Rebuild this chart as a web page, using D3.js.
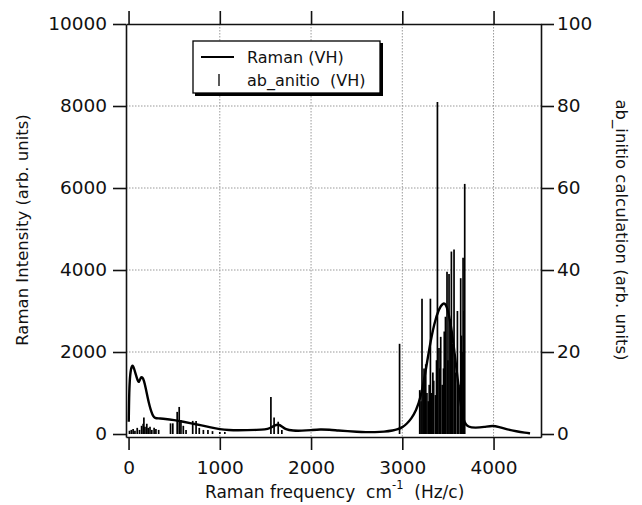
<!DOCTYPE html>
<html>
<head>
<meta charset="utf-8">
<script src="https://cdn.jsdelivr.net/npm/d3@7"></script>
<style>
  body { margin: 0; background: #fff; }
  text { font-family: "DejaVu Sans", sans-serif; fill: #111; }
  .grid line { stroke: #999; stroke-width: 1; stroke-dasharray: 1.5,1.5; }
  .axis path, .axis line { stroke: #111; stroke-width: 1.6; }
</style>
</head>
<body>
<svg width="642" height="505"></svg>
<script>
// Raman (VH) measured spectrum: [frequency cm-1, intensity]
var ramanSpectrum = [
  [2, 300], [6, 900], [12, 1300], [25, 1600], [45, 1700], [60, 1600], [80, 1450], [100, 1300],
  [115, 1250], [130, 1370], [150, 1400], [170, 1300], [190, 1100], [210, 880], [230, 690],
  [250, 540], [270, 430], [290, 390], [320, 380], [400, 370], [500, 340], [600, 300],
  [700, 255], [800, 210], [900, 160], [1000, 115], [1100, 95], [1200, 90], [1300, 95],
  [1400, 100], [1500, 110], [1550, 140], [1600, 210], [1640, 240], [1680, 190], [1720, 110],
  [1800, 80], [1900, 80], [2000, 95], [2100, 115], [2200, 105], [2300, 85], [2400, 70],
  [2500, 55], [2600, 45], [2700, 45], [2800, 55], [2900, 85], [2950, 115], [3000, 160],
  [3050, 250], [3100, 380], [3150, 560], [3200, 880], [3250, 1450], [3300, 2150],
  [3350, 2700], [3400, 3050], [3445, 3200], [3485, 3180], [3540, 2600], [3595, 1560],
  [3630, 900], [3655, 500], [3680, 270], [3720, 170], [3800, 150], [3900, 170],
  [3990, 210], [4060, 170], [4150, 110], [4250, 65], [4350, 30], [4400, 15]
];

// ab_initio (VH) calculated lines: [frequency cm-1, intensity]
var abInitio = [
  [10, 0.8], [30, 1], [50, 1.2], [70, 0.8], [95, 1.5], [120, 1], [143, 2], [160, 2.5],
  [168, 4], [180, 1.8], [200, 2.5], [215, 1.5], [235, 1.8], [255, 1], [280, 1.5], [300, 1.2],
  [330, 1], [460, 2.6], [485, 2.6], [533, 5.4], [555, 6.6], [574, 3.4], [600, 2], [630, 1],
  [703, 3.2], [740, 3.2], [775, 1.5], [820, 1], [870, 1], [920, 0.7], [1000, 0.5], [1055, 0.5],
  [1560, 9], [1595, 4], [1640, 3], [1680, 1],
  [2970, 22], [3191, 10.7], [3205, 8], [3216, 33], [3228, 12], [3238, 16], [3248, 14],
  [3257, 17], [3270, 10], [3285, 8], [3295, 12], [3308, 33], [3320, 10], [3335, 15],
  [3344, 13], [3363, 9.5], [3375, 18], [3385, 81], [3402, 21], [3410, 16], [3421, 23.7],
  [3438, 12], [3452, 16], [3460, 25], [3473, 28.6], [3490, 39.6], [3500, 18], [3512, 39],
  [3525, 28], [3538, 44.5], [3550, 22], [3567, 45], [3575, 18], [3585, 15], [3604, 30],
  [3620, 12], [3640, 38], [3648, 24], [3655, 20], [3666, 43], [3675, 30], [3684, 61]
];

var xTicks = [0, 1000, 2000, 3000, 4000];
var yLeftTicks = [0, 2000, 4000, 6000, 8000, 10000];
var yRightTicks = [0, 20, 40, 60, 80, 100];

var svg = d3.select("svg"),
    pLeft = 126, pRight = 541, pTop = 24, pBottom = 437;

var x = d3.scaleLinear().domain([-28, 4520]).range([pLeft, pRight]),
    y = d3.scaleLinear().domain([-73, 10000]).range([pBottom, pTop]),
    y2 = d3.scaleLinear().domain([-0.73, 100]).range([pBottom, pTop]);

// dotted grid
var grid = svg.append("g").attr("class", "grid");
grid.selectAll(".gx").data(xTicks.filter(function(d) { return d > 0; }))
  .enter().append("line")
    .attr("x1", function(d) { return x(d); }).attr("x2", function(d) { return x(d); })
    .attr("y1", pTop).attr("y2", pBottom);
grid.selectAll(".gy").data(yLeftTicks.filter(function(d) { return d > 0 && d < 10000; }))
  .enter().append("line")
    .attr("x1", pLeft).attr("x2", pRight)
    .attr("y1", function(d) { return y(d); }).attr("y2", function(d) { return y(d); });

// ab_initio sticks
svg.append("g").selectAll("line").data(abInitio)
  .enter().append("line")
    .attr("x1", function(d) { return x(d[0]); }).attr("x2", function(d) { return x(d[0]); })
    .attr("y1", y2(0)).attr("y2", function(d) { return y2(d[1]); })
    .attr("stroke", "#000").attr("stroke-width", 1.7);

// Raman curve
var line = d3.line()
    .x(function(d) { return x(d[0]); })
    .y(function(d) { return y(d[1]); })
    .curve(d3.curveBasis);
svg.append("path").datum(ramanSpectrum)
    .attr("d", line)
    .attr("fill", "none").attr("stroke", "#000").attr("stroke-width", 2.4);

// axes
var fmt = d3.format("d");
svg.append("g").attr("class", "axis")
    .attr("transform", "translate(0," + pBottom + ")")
    .call(d3.axisBottom(x).tickValues(xTicks).tickFormat(fmt).tickSizeInner(13).tickSizeOuter(0).tickPadding(11))
    .selectAll("text").style("font-size", "18.5px");
svg.append("g").attr("class", "axis")
    .attr("transform", "translate(0," + pTop + ")")
    .call(d3.axisTop(x).tickValues(xTicks).tickSizeInner(13).tickSizeOuter(0).tickFormat(""));
svg.append("g").attr("class", "axis")
    .attr("transform", "translate(" + pLeft + ",0)")
    .call(d3.axisLeft(y).tickValues(yLeftTicks).tickFormat(fmt).tickSizeInner(13).tickSizeOuter(0).tickPadding(6))
    .selectAll("text").style("font-size", "18.5px");
svg.append("g").attr("class", "axis")
    .attr("transform", "translate(" + pRight + ",0)")
    .call(d3.axisRight(y2).tickValues(yRightTicks).tickFormat(fmt).tickSizeInner(13).tickSizeOuter(0).tickPadding(3))
    .selectAll("text").style("font-size", "18.5px");

// axis titles
svg.append("text")
    .attr("transform", "translate(28,230) rotate(-90)")
    .attr("text-anchor", "middle").style("font-size", "16.5px")
    .text("Raman Intensity (arb. units)");
svg.append("text")
    .attr("transform", "translate(616,230) rotate(90)")
    .attr("text-anchor", "middle").style("font-size", "16.5px")
    .text("ab_initio calculation (arb. units)");
var xt = svg.append("text")
    .attr("x", 205).attr("y", 498).style("font-size", "17px");
xt.append("tspan").text("Raman frequency\u00a0\u00a0cm");
xt.append("tspan").attr("dy", -9).style("font-size", "11.5px").text("-1");
xt.append("tspan").attr("dy", 9).text("\u00a0\u00a0(Hz/c)");

// legend
var lg = svg.append("g");
lg.append("rect").attr("x", 195).attr("y", 43).attr("width", 188).attr("height", 53).attr("fill", "#000");
lg.append("rect").attr("x", 193).attr("y", 41).attr("width", 187).attr("height", 52)
    .attr("fill", "#fff").attr("stroke", "#000").attr("stroke-width", 1.3);
lg.append("line").attr("x1", 201).attr("x2", 234).attr("y1", 57).attr("y2", 57)
    .attr("stroke", "#000").attr("stroke-width", 2);
lg.append("line").attr("x1", 219).attr("x2", 219).attr("y1", 74).attr("y2", 86)
    .attr("stroke", "#000").attr("stroke-width", 1.3);
lg.append("text").attr("x", 247).attr("y", 63).style("font-size", "16px").text("Raman (VH)");
lg.append("text").attr("x", 247).attr("y", 86).style("font-size", "16px").text("ab_anitio\u00a0\u00a0(VH)");
</script>
</body>
</html>
